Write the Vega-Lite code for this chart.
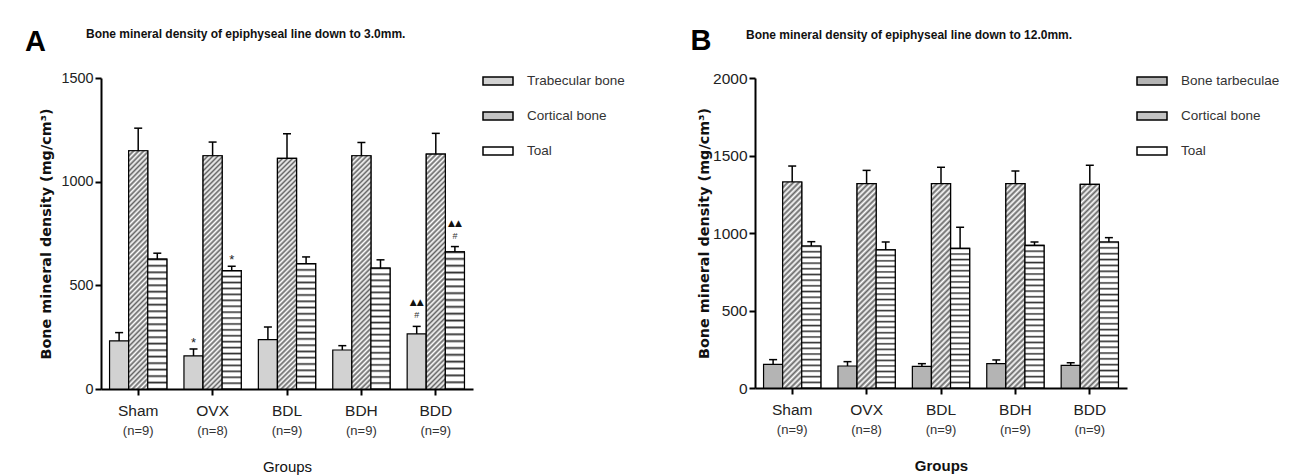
{
  "$schema": "https://vega.github.io/schema/vega-lite/v6.json",
  "padding": {"left": 24, "top": 27, "right": 0, "bottom": 0},
  "config": {
    "view": {"stroke": null},
    "font": "Liberation Sans",
    "axis": {"domainColor": "#000", "domainWidth": 2, "tickColor": "#000", "tickWidth": 2, "tickSize": 6, "labelColor": "#222", "labelFont": "Liberation Sans", "grid": false, "titleColor": "#111"},
    "legend": {"labelFont": "Liberation Sans", "labelFontSize": 13.5, "labelColor": "#333", "symbolStrokeColor": "#000", "symbolStrokeWidth": 1.5, "symbolType": "M-1,-0.27H1V0.27H-1Z", "symbolSize": 900, "rowPadding": 11, "labelOffset": 13, "padding": 0}
  },
  "datasets": {
    "barsA": [
      {"g": "Sham", "t": "Trabecular bone", "v": 232, "hi": 272},
      {"g": "Sham", "t": "Cortical bone", "v": 1149, "hi": 1258},
      {"g": "Sham", "t": "Toal", "v": 626, "hi": 655},
      {"g": "OVX", "t": "Trabecular bone", "v": 160, "hi": 193},
      {"g": "OVX", "t": "Cortical bone", "v": 1125, "hi": 1191},
      {"g": "OVX", "t": "Toal", "v": 571, "hi": 592},
      {"g": "BDL", "t": "Trabecular bone", "v": 238, "hi": 299},
      {"g": "BDL", "t": "Cortical bone", "v": 1112, "hi": 1231},
      {"g": "BDL", "t": "Toal", "v": 605, "hi": 637},
      {"g": "BDH", "t": "Trabecular bone", "v": 188, "hi": 209},
      {"g": "BDH", "t": "Cortical bone", "v": 1125, "hi": 1189},
      {"g": "BDH", "t": "Toal", "v": 583, "hi": 623},
      {"g": "BDD", "t": "Trabecular bone", "v": 266, "hi": 302},
      {"g": "BDD", "t": "Cortical bone", "v": 1133, "hi": 1233},
      {"g": "BDD", "t": "Toal", "v": 661, "hi": 687}
    ],
    "barsB": [
      {"g": "Sham", "t": "Bone tarbeculae", "v": 153, "hi": 183},
      {"g": "Sham", "t": "Cortical bone", "v": 1329, "hi": 1432},
      {"g": "Sham", "t": "Toal", "v": 916, "hi": 944},
      {"g": "OVX", "t": "Bone tarbeculae", "v": 142, "hi": 170},
      {"g": "OVX", "t": "Cortical bone", "v": 1318, "hi": 1404},
      {"g": "OVX", "t": "Toal", "v": 892, "hi": 942},
      {"g": "BDL", "t": "Bone tarbeculae", "v": 140, "hi": 157},
      {"g": "BDL", "t": "Cortical bone", "v": 1318, "hi": 1424},
      {"g": "BDL", "t": "Toal", "v": 901, "hi": 1037},
      {"g": "BDH", "t": "Bone tarbeculae", "v": 157, "hi": 181},
      {"g": "BDH", "t": "Cortical bone", "v": 1318, "hi": 1400},
      {"g": "BDH", "t": "Toal", "v": 920, "hi": 942},
      {"g": "BDD", "t": "Bone tarbeculae", "v": 146, "hi": 163},
      {"g": "BDD", "t": "Cortical bone", "v": 1314, "hi": 1437},
      {"g": "BDD", "t": "Toal", "v": 942, "hi": 970}
    ],
    "groups": [
      {"g": "Sham", "n": "(n=9)"},
      {"g": "OVX", "n": "(n=8)"},
      {"g": "BDL", "n": "(n=9)"},
      {"g": "BDH", "n": "(n=9)"},
      {"g": "BDD", "n": "(n=9)"}
    ],
    "annA": [
      {"g": "OVX", "t": "Trabecular bone", "lab": "*", "hi": 193},
      {"g": "OVX", "t": "Toal", "lab": "*", "hi": 592},
      {"g": "BDD", "t": "Trabecular bone", "lab": "#", "hi": 302},
      {"g": "BDD", "t": "Trabecular bone", "lab": "▲▲", "hi": 302},
      {"g": "BDD", "t": "Toal", "lab": "#", "hi": 687},
      {"g": "BDD", "t": "Toal", "lab": "▲▲", "hi": 687}
    ]
  },
  "resolve": {"scale": {"fill": "independent", "y": "independent", "x": "independent", "xOffset": "independent"}, "legend": {"fill": "independent"}},
  "spacing": 65,
  "hconcat": [
    {
      "title": {"text": "A", "anchor": "start", "frame": "bounds", "fontSize": 29, "fontWeight": "bold", "font": "Liberation Sans", "dx": -14, "offset": -52, "baseline": "alphabetic", "color": "#000"},
      "hconcat": [
        {
          "title": {"text": "Bone mineral density of epiphyseal line down to 3.0mm.", "anchor": "start", "frame": "group", "dx": -15, "offset": 20, "baseline": "alphabetic", "font": "Liberation Sans", "fontSize": 12, "fontWeight": "bold", "color": "#111"},
          "width": 372,
          "height": 311,
          "data": {"name": "barsA"},
          "encoding": {
            "x": {"field": "g", "type": "nominal", "sort": ["Sham", "OVX", "BDL", "BDH", "BDD"], "scale": {"paddingInner": 0.23, "paddingOuter": 0.115},
              "axis": {"labelAngle": 0, "labelFontSize": 15.5, "labelPadding": 8, "title": "Groups", "titleFont": "Liberation Sans", "titleFontSize": 15, "titleFontWeight": "normal", "titlePadding": 41}},
            "xOffset": {"field": "t", "type": "nominal", "scale": {"domain": ["Trabecular bone", "Cortical bone", "Toal"], "paddingInner": 0, "paddingOuter": 0}}
          },
          "layer": [
            {
              "mark": {"type": "bar", "stroke": "#000", "strokeWidth": 1.2},
              "encoding": {
                "y": {"field": "v", "type": "quantitative", "scale": {"domain": [0, 1500], "nice": false},
                  "axis": {"values": [0, 500, 1000, 1500], "format": "d", "labelFontSize": 14.4, "labelPadding": 2, "title": "Bone mineral density (mg/cm³)", "titleFont": "DejaVu Sans", "titleFontSize": 14.4, "titleFontWeight": "bold", "titlePadding": 7}},
                "fill": {"field": "t", "type": "nominal",
                  "scale": {"domain": ["Trabecular bone", "Cortical bone", "Toal"], "range": ["#d2d2d2", "#c4c4c4", "#ffffff"]},
                  "legend": {"title": null, "orient": "none", "legendX": 381, "legendY": -13}}
              }
            },
            {
              "transform": [{"filter": "datum.t === 'Cortical bone'"}],
              "mark": {"type": "bar", "stroke": "#000", "strokeWidth": 1.2,
                "fill": {"gradient": "linear", "x1": 0, "y1": 0, "x2": 0.0877, "y2": 1.074, "stops": [
                  {"offset": 0, "color": "#666"},{"offset": 0.01, "color": "#fff"},{"offset": 0.02, "color": "#666"},{"offset": 0.03, "color": "#fff"},{"offset": 0.04, "color": "#666"},{"offset": 0.05, "color": "#fff"},{"offset": 0.06, "color": "#666"},{"offset": 0.07, "color": "#fff"},{"offset": 0.08, "color": "#666"},{"offset": 0.09, "color": "#fff"},
                  {"offset": 0.1, "color": "#666"},{"offset": 0.11, "color": "#fff"},{"offset": 0.12, "color": "#666"},{"offset": 0.13, "color": "#fff"},{"offset": 0.14, "color": "#666"},{"offset": 0.15, "color": "#fff"},{"offset": 0.16, "color": "#666"},{"offset": 0.17, "color": "#fff"},{"offset": 0.18, "color": "#666"},{"offset": 0.19, "color": "#fff"},
                  {"offset": 0.2, "color": "#666"},{"offset": 0.21, "color": "#fff"},{"offset": 0.22, "color": "#666"},{"offset": 0.23, "color": "#fff"},{"offset": 0.24, "color": "#666"},{"offset": 0.25, "color": "#fff"},{"offset": 0.26, "color": "#666"},{"offset": 0.27, "color": "#fff"},{"offset": 0.28, "color": "#666"},{"offset": 0.29, "color": "#fff"},
                  {"offset": 0.3, "color": "#666"},{"offset": 0.31, "color": "#fff"},{"offset": 0.32, "color": "#666"},{"offset": 0.33, "color": "#fff"},{"offset": 0.34, "color": "#666"},{"offset": 0.35, "color": "#fff"},{"offset": 0.36, "color": "#666"},{"offset": 0.37, "color": "#fff"},{"offset": 0.38, "color": "#666"},{"offset": 0.39, "color": "#fff"},
                  {"offset": 0.4, "color": "#666"},{"offset": 0.41, "color": "#fff"},{"offset": 0.42, "color": "#666"},{"offset": 0.43, "color": "#fff"},{"offset": 0.44, "color": "#666"},{"offset": 0.45, "color": "#fff"},{"offset": 0.46, "color": "#666"},{"offset": 0.47, "color": "#fff"},{"offset": 0.48, "color": "#666"},{"offset": 0.49, "color": "#fff"},
                  {"offset": 0.5, "color": "#666"},{"offset": 0.51, "color": "#fff"},{"offset": 0.52, "color": "#666"},{"offset": 0.53, "color": "#fff"},{"offset": 0.54, "color": "#666"},{"offset": 0.55, "color": "#fff"},{"offset": 0.56, "color": "#666"},{"offset": 0.57, "color": "#fff"},{"offset": 0.58, "color": "#666"},{"offset": 0.59, "color": "#fff"},
                  {"offset": 0.6, "color": "#666"},{"offset": 0.61, "color": "#fff"},{"offset": 0.62, "color": "#666"},{"offset": 0.63, "color": "#fff"},{"offset": 0.64, "color": "#666"},{"offset": 0.65, "color": "#fff"},{"offset": 0.66, "color": "#666"},{"offset": 0.67, "color": "#fff"},{"offset": 0.68, "color": "#666"},{"offset": 0.69, "color": "#fff"},
                  {"offset": 0.7, "color": "#666"},{"offset": 0.71, "color": "#fff"},{"offset": 0.72, "color": "#666"},{"offset": 0.73, "color": "#fff"},{"offset": 0.74, "color": "#666"},{"offset": 0.75, "color": "#fff"},{"offset": 0.76, "color": "#666"},{"offset": 0.77, "color": "#fff"},{"offset": 0.78, "color": "#666"},{"offset": 0.79, "color": "#fff"},
                  {"offset": 0.8, "color": "#666"},{"offset": 0.81, "color": "#fff"},{"offset": 0.82, "color": "#666"},{"offset": 0.83, "color": "#fff"},{"offset": 0.84, "color": "#666"},{"offset": 0.85, "color": "#fff"},{"offset": 0.86, "color": "#666"},{"offset": 0.87, "color": "#fff"},{"offset": 0.88, "color": "#666"},{"offset": 0.89, "color": "#fff"},
                  {"offset": 0.9, "color": "#666"},{"offset": 0.91, "color": "#fff"},{"offset": 0.92, "color": "#666"},{"offset": 0.93, "color": "#fff"},{"offset": 0.94, "color": "#666"},{"offset": 0.95, "color": "#fff"},{"offset": 0.96, "color": "#666"},{"offset": 0.97, "color": "#fff"},{"offset": 0.98, "color": "#666"},{"offset": 0.99, "color": "#fff"},
                  {"offset": 1, "color": "#666"}
                ]}},
              "encoding": {"y": {"field": "v", "type": "quantitative"}}
            },
            {
              "transform": [{"filter": "datum.t === 'Toal'"}],
              "mark": {"type": "bar", "stroke": "#000", "strokeWidth": 1.2,
                "fill": {"gradient": "linear", "x1": 0, "y1": 0, "x2": 0, "y2": 1, "stops": [
                  {"offset": 0, "color": "#333"},{"offset": 0.015, "color": "#fff"},{"offset": 0.0375, "color": "#fff"},
                  {"offset": 0.05, "color": "#333"},{"offset": 0.065, "color": "#fff"},{"offset": 0.0875, "color": "#fff"},
                  {"offset": 0.1, "color": "#333"},{"offset": 0.115, "color": "#fff"},{"offset": 0.1375, "color": "#fff"},
                  {"offset": 0.15, "color": "#333"},{"offset": 0.165, "color": "#fff"},{"offset": 0.1875, "color": "#fff"},
                  {"offset": 0.2, "color": "#333"},{"offset": 0.215, "color": "#fff"},{"offset": 0.2375, "color": "#fff"},
                  {"offset": 0.25, "color": "#333"},{"offset": 0.265, "color": "#fff"},{"offset": 0.2875, "color": "#fff"},
                  {"offset": 0.3, "color": "#333"},{"offset": 0.315, "color": "#fff"},{"offset": 0.3375, "color": "#fff"},
                  {"offset": 0.35, "color": "#333"},{"offset": 0.365, "color": "#fff"},{"offset": 0.3875, "color": "#fff"},
                  {"offset": 0.4, "color": "#333"},{"offset": 0.415, "color": "#fff"},{"offset": 0.4375, "color": "#fff"},
                  {"offset": 0.45, "color": "#333"},{"offset": 0.465, "color": "#fff"},{"offset": 0.4875, "color": "#fff"},
                  {"offset": 0.5, "color": "#333"},{"offset": 0.515, "color": "#fff"},{"offset": 0.5375, "color": "#fff"},
                  {"offset": 0.55, "color": "#333"},{"offset": 0.565, "color": "#fff"},{"offset": 0.5875, "color": "#fff"},
                  {"offset": 0.6, "color": "#333"},{"offset": 0.615, "color": "#fff"},{"offset": 0.6375, "color": "#fff"},
                  {"offset": 0.65, "color": "#333"},{"offset": 0.665, "color": "#fff"},{"offset": 0.6875, "color": "#fff"},
                  {"offset": 0.7, "color": "#333"},{"offset": 0.715, "color": "#fff"},{"offset": 0.7375, "color": "#fff"},
                  {"offset": 0.75, "color": "#333"},{"offset": 0.765, "color": "#fff"},{"offset": 0.7875, "color": "#fff"},
                  {"offset": 0.8, "color": "#333"},{"offset": 0.815, "color": "#fff"},{"offset": 0.8375, "color": "#fff"},
                  {"offset": 0.85, "color": "#333"},{"offset": 0.865, "color": "#fff"},{"offset": 0.8875, "color": "#fff"},
                  {"offset": 0.9, "color": "#333"},{"offset": 0.915, "color": "#fff"},{"offset": 0.9375, "color": "#fff"},
                  {"offset": 0.95, "color": "#333"},{"offset": 0.965, "color": "#fff"},{"offset": 0.9875, "color": "#fff"},
                  {"offset": 1, "color": "#333"}
                ]}},
              "encoding": {"y": {"field": "v", "type": "quantitative"}}
            },
            {
              "mark": {"type": "rule", "color": "#000", "strokeWidth": 1.5},
              "encoding": {"y": {"field": "v", "type": "quantitative"}, "y2": {"field": "hi"}}
            },
            {
              "mark": {"type": "tick", "color": "#000", "thickness": 1.5, "size": 8, "opacity": 1},
              "encoding": {"y": {"field": "hi", "type": "quantitative"}}
            },
            {
              "data": {"name": "groups"},
              "mark": {"type": "text", "dy": 42, "baseline": "middle", "fontSize": 13, "color": "#333", "font": "Liberation Sans"},
              "encoding": {"xOffset": null, "y": {"datum": 0}, "text": {"field": "n"}}
            },
            {
              "data": {"name": "annA"},
              "transform": [{"filter": "datum.lab === '*'"}],
              "mark": {"type": "text", "dy": -2, "baseline": "alphabetic", "fontSize": 13, "color": "#222"},
              "encoding": {"y": {"field": "hi", "type": "quantitative"}, "text": {"field": "lab"}}
            },
            {
              "data": {"name": "annA"},
              "transform": [{"filter": "datum.lab === '#'"}],
              "mark": {"type": "text", "dy": -8, "baseline": "alphabetic", "fontSize": 9, "color": "#333"},
              "encoding": {"y": {"field": "hi", "type": "quantitative"}, "text": {"field": "lab"}}
            },
            {
              "data": {"name": "annA"},
              "transform": [{"filter": "datum.lab === '▲▲'"}],
              "mark": {"type": "text", "dy": -21, "baseline": "alphabetic", "fontSize": 9, "font": "DejaVu Sans", "color": "#111"},
              "encoding": {"y": {"field": "hi", "type": "quantitative"}, "text": {"field": "lab"}}
            }
          ]
        }
      ]
    },
    {
      "title": {"text": "B", "anchor": "start", "frame": "bounds", "fontSize": 29, "fontWeight": "bold", "font": "Liberation Sans", "dx": -6, "offset": -50, "baseline": "alphabetic", "color": "#000"},
      "hconcat": [
        {
          "title": {"text": "Bone mineral density of epiphyseal line down to 12.0mm.", "anchor": "start", "frame": "group", "dx": -9, "offset": 20, "baseline": "alphabetic", "font": "Liberation Sans", "fontSize": 12, "fontWeight": "bold", "color": "#111"},
          "width": 372,
          "height": 310,
          "data": {"name": "barsB"},
          "encoding": {
            "x": {"field": "g", "type": "nominal", "sort": ["Sham", "OVX", "BDL", "BDH", "BDD"], "scale": {"paddingInner": 0.23, "paddingOuter": 0.115},
              "axis": {"labelAngle": 0, "labelFontSize": 15.5, "labelPadding": 8, "title": "Groups", "titleFont": "Liberation Sans", "titleFontSize": 15, "titleFontWeight": "bold", "titlePadding": 41}},
            "xOffset": {"field": "t", "type": "nominal", "scale": {"domain": ["Bone tarbeculae", "Cortical bone", "Toal"], "paddingInner": 0, "paddingOuter": 0}}
          },
          "layer": [
            {
              "mark": {"type": "bar", "stroke": "#000", "strokeWidth": 1.2},
              "encoding": {
                "y": {"field": "v", "type": "quantitative", "scale": {"domain": [0, 2000], "nice": false},
                  "axis": {"values": [0, 500, 1000, 1500, 2000], "format": "d", "labelFontSize": 15.5, "labelPadding": 2, "title": "Bone mineral density (mg/cm³)", "titleFont": "DejaVu Sans", "titleFontSize": 14.4, "titleFontWeight": "bold", "titlePadding": 1}},
                "fill": {"field": "t", "type": "nominal",
                  "scale": {"domain": ["Bone tarbeculae", "Cortical bone", "Toal"], "range": ["#b4b4b4", "#c4c4c4", "#ffffff"]},
                  "legend": {"title": null, "orient": "none", "legendX": 381, "legendY": -13}}
              }
            },
            {
              "transform": [{"filter": "datum.t === 'Cortical bone'"}],
              "mark": {"type": "bar", "stroke": "#000", "strokeWidth": 1.2,
                "fill": {"gradient": "linear", "x1": 0, "y1": 0, "x2": 0.101, "y2": 1.083, "stops": [
                  {"offset": 0, "color": "#666"},{"offset": 0.0125, "color": "#fff"},{"offset": 0.025, "color": "#666"},{"offset": 0.0375, "color": "#fff"},
                  {"offset": 0.05, "color": "#666"},{"offset": 0.0625, "color": "#fff"},{"offset": 0.075, "color": "#666"},{"offset": 0.0875, "color": "#fff"},
                  {"offset": 0.1, "color": "#666"},{"offset": 0.1125, "color": "#fff"},{"offset": 0.125, "color": "#666"},{"offset": 0.1375, "color": "#fff"},
                  {"offset": 0.15, "color": "#666"},{"offset": 0.1625, "color": "#fff"},{"offset": 0.175, "color": "#666"},{"offset": 0.1875, "color": "#fff"},
                  {"offset": 0.2, "color": "#666"},{"offset": 0.2125, "color": "#fff"},{"offset": 0.225, "color": "#666"},{"offset": 0.2375, "color": "#fff"},
                  {"offset": 0.25, "color": "#666"},{"offset": 0.2625, "color": "#fff"},{"offset": 0.275, "color": "#666"},{"offset": 0.2875, "color": "#fff"},
                  {"offset": 0.3, "color": "#666"},{"offset": 0.3125, "color": "#fff"},{"offset": 0.325, "color": "#666"},{"offset": 0.3375, "color": "#fff"},
                  {"offset": 0.35, "color": "#666"},{"offset": 0.3625, "color": "#fff"},{"offset": 0.375, "color": "#666"},{"offset": 0.3875, "color": "#fff"},
                  {"offset": 0.4, "color": "#666"},{"offset": 0.4125, "color": "#fff"},{"offset": 0.425, "color": "#666"},{"offset": 0.4375, "color": "#fff"},
                  {"offset": 0.45, "color": "#666"},{"offset": 0.4625, "color": "#fff"},{"offset": 0.475, "color": "#666"},{"offset": 0.4875, "color": "#fff"},
                  {"offset": 0.5, "color": "#666"},{"offset": 0.5125, "color": "#fff"},{"offset": 0.525, "color": "#666"},{"offset": 0.5375, "color": "#fff"},
                  {"offset": 0.55, "color": "#666"},{"offset": 0.5625, "color": "#fff"},{"offset": 0.575, "color": "#666"},{"offset": 0.5875, "color": "#fff"},
                  {"offset": 0.6, "color": "#666"},{"offset": 0.6125, "color": "#fff"},{"offset": 0.625, "color": "#666"},{"offset": 0.6375, "color": "#fff"},
                  {"offset": 0.65, "color": "#666"},{"offset": 0.6625, "color": "#fff"},{"offset": 0.675, "color": "#666"},{"offset": 0.6875, "color": "#fff"},
                  {"offset": 0.7, "color": "#666"},{"offset": 0.7125, "color": "#fff"},{"offset": 0.725, "color": "#666"},{"offset": 0.7375, "color": "#fff"},
                  {"offset": 0.75, "color": "#666"},{"offset": 0.7625, "color": "#fff"},{"offset": 0.775, "color": "#666"},{"offset": 0.7875, "color": "#fff"},
                  {"offset": 0.8, "color": "#666"},{"offset": 0.8125, "color": "#fff"},{"offset": 0.825, "color": "#666"},{"offset": 0.8375, "color": "#fff"},
                  {"offset": 0.85, "color": "#666"},{"offset": 0.8625, "color": "#fff"},{"offset": 0.875, "color": "#666"},{"offset": 0.8875, "color": "#fff"},
                  {"offset": 0.9, "color": "#666"},{"offset": 0.9125, "color": "#fff"},{"offset": 0.925, "color": "#666"},{"offset": 0.9375, "color": "#fff"},
                  {"offset": 0.95, "color": "#666"},{"offset": 0.9625, "color": "#fff"},{"offset": 0.975, "color": "#666"},{"offset": 0.9875, "color": "#fff"},
                  {"offset": 1, "color": "#666"}
                ]}},
              "encoding": {"y": {"field": "v", "type": "quantitative"}}
            },
            {
              "transform": [{"filter": "datum.t === 'Toal'"}],
              "mark": {"type": "bar", "stroke": "#000", "strokeWidth": 1.2,
                "fill": {"gradient": "linear", "x1": 0, "y1": 0, "x2": 0, "y2": 1, "stops": [
                  {"offset": 0, "color": "#333"},{"offset": 0.012, "color": "#fff"},{"offset": 0.03, "color": "#fff"},
                  {"offset": 0.04, "color": "#333"},{"offset": 0.052, "color": "#fff"},{"offset": 0.07, "color": "#fff"},
                  {"offset": 0.08, "color": "#333"},{"offset": 0.092, "color": "#fff"},{"offset": 0.11, "color": "#fff"},
                  {"offset": 0.12, "color": "#333"},{"offset": 0.132, "color": "#fff"},{"offset": 0.15, "color": "#fff"},
                  {"offset": 0.16, "color": "#333"},{"offset": 0.172, "color": "#fff"},{"offset": 0.19, "color": "#fff"},
                  {"offset": 0.2, "color": "#333"},{"offset": 0.212, "color": "#fff"},{"offset": 0.23, "color": "#fff"},
                  {"offset": 0.24, "color": "#333"},{"offset": 0.252, "color": "#fff"},{"offset": 0.27, "color": "#fff"},
                  {"offset": 0.28, "color": "#333"},{"offset": 0.292, "color": "#fff"},{"offset": 0.31, "color": "#fff"},
                  {"offset": 0.32, "color": "#333"},{"offset": 0.332, "color": "#fff"},{"offset": 0.35, "color": "#fff"},
                  {"offset": 0.36, "color": "#333"},{"offset": 0.372, "color": "#fff"},{"offset": 0.39, "color": "#fff"},
                  {"offset": 0.4, "color": "#333"},{"offset": 0.412, "color": "#fff"},{"offset": 0.43, "color": "#fff"},
                  {"offset": 0.44, "color": "#333"},{"offset": 0.452, "color": "#fff"},{"offset": 0.47, "color": "#fff"},
                  {"offset": 0.48, "color": "#333"},{"offset": 0.492, "color": "#fff"},{"offset": 0.51, "color": "#fff"},
                  {"offset": 0.52, "color": "#333"},{"offset": 0.532, "color": "#fff"},{"offset": 0.55, "color": "#fff"},
                  {"offset": 0.56, "color": "#333"},{"offset": 0.572, "color": "#fff"},{"offset": 0.59, "color": "#fff"},
                  {"offset": 0.6, "color": "#333"},{"offset": 0.612, "color": "#fff"},{"offset": 0.63, "color": "#fff"},
                  {"offset": 0.64, "color": "#333"},{"offset": 0.652, "color": "#fff"},{"offset": 0.67, "color": "#fff"},
                  {"offset": 0.68, "color": "#333"},{"offset": 0.692, "color": "#fff"},{"offset": 0.71, "color": "#fff"},
                  {"offset": 0.72, "color": "#333"},{"offset": 0.732, "color": "#fff"},{"offset": 0.75, "color": "#fff"},
                  {"offset": 0.76, "color": "#333"},{"offset": 0.772, "color": "#fff"},{"offset": 0.79, "color": "#fff"},
                  {"offset": 0.8, "color": "#333"},{"offset": 0.812, "color": "#fff"},{"offset": 0.83, "color": "#fff"},
                  {"offset": 0.84, "color": "#333"},{"offset": 0.852, "color": "#fff"},{"offset": 0.87, "color": "#fff"},
                  {"offset": 0.88, "color": "#333"},{"offset": 0.892, "color": "#fff"},{"offset": 0.91, "color": "#fff"},
                  {"offset": 0.92, "color": "#333"},{"offset": 0.932, "color": "#fff"},{"offset": 0.95, "color": "#fff"},
                  {"offset": 0.96, "color": "#333"},{"offset": 0.972, "color": "#fff"},{"offset": 0.99, "color": "#fff"},
                  {"offset": 1, "color": "#333"}
                ]}},
              "encoding": {"y": {"field": "v", "type": "quantitative"}}
            },
            {
              "mark": {"type": "rule", "color": "#000", "strokeWidth": 1.5},
              "encoding": {"y": {"field": "v", "type": "quantitative"}, "y2": {"field": "hi"}}
            },
            {
              "mark": {"type": "tick", "color": "#000", "thickness": 1.5, "size": 8, "opacity": 1},
              "encoding": {"y": {"field": "hi", "type": "quantitative"}}
            },
            {
              "data": {"name": "groups"},
              "mark": {"type": "text", "dy": 42, "baseline": "middle", "fontSize": 13, "color": "#333", "font": "Liberation Sans"},
              "encoding": {"xOffset": null, "y": {"datum": 0}, "text": {"field": "n"}}
            }
          ]
        }
      ]
    }
  ]
}
